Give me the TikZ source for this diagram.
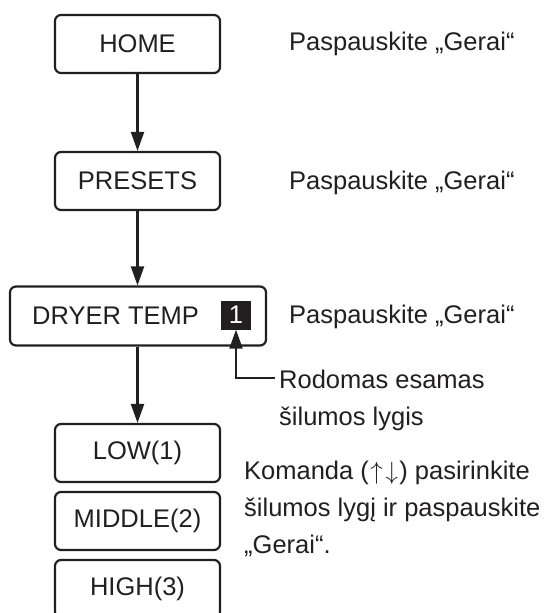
\documentclass[tikz,border=0pt]{standalone}
\usepackage{fontspec}
\setmainfont{Liberation Sans}
\usetikzlibrary{arrows.meta}
\definecolor{ink}{HTML}{231F20}
\newcommand{\diafont}{\fontsize{25.5}{37}\selectfont}
\begin{document}
\begin{tikzpicture}[x=1pt,y=-1pt,
  box/.style={draw=ink, line width=2.2pt, rounded corners=6pt, minimum width=165pt, minimum height=58pt, inner sep=0pt, text=ink, font=\diafont},
  note/.style={anchor=west, inner sep=0pt, text=ink, font=\diafont, align=left},
  conn/.style={draw=ink, line width=2.2pt, -{Triangle[width=13pt,length=19pt]}}]
\clip (0,0) rectangle (557,613);
\fill[white] (0,0) rectangle (557,613);

\node[box] (home) at (137.5,44) {HOME};
\node[box] (presets) at (137.5,181) {PRESETS};
\node[box, minimum width=256pt, minimum height=59pt] (dryer) at (138,316) {};
\node[note] (dtext) at (32,316) {DRYER TEMP};
\node[fill=ink, minimum width=30pt, minimum height=29pt, inner sep=0pt, text=white, font=\diafont] (sq) at (236,315) {1};

\node[box] (low) at (137.5,453) {LOW(1)};
\node[box] (mid) at (137.5,521) {MIDDLE(2)};
\node[box] (high) at (137.5,589) {HIGH(3)};

\draw[conn] (home) -- (presets);
\draw[conn] (presets) -- (presets |- dryer.north);
\draw[conn] (dryer.south -| low) -- (low);

\coordinate (rc) at (275,378);
\draw[conn] (rc) -| (sq.south);

\node[note] (n1) at (289,44) {Paspauskite „Gerai“};
\node[note] (n2) at (289,183) {Paspauskite „Gerai“};
\node[note] (n3) at (289,317) {Paspauskite „Gerai“};
\node[note] (n4) at (279,400) {Rodomas esamas\\šilumos lygis};
\node[note] (n5) at (244,509) {Komanda ($\mkern1mu\uparrow\mkern2mu\downarrow\mkern1mu$) pasirinkite\\šilumos lygį ir paspauskite\\„Gerai“.};
\end{tikzpicture}
\end{document}
